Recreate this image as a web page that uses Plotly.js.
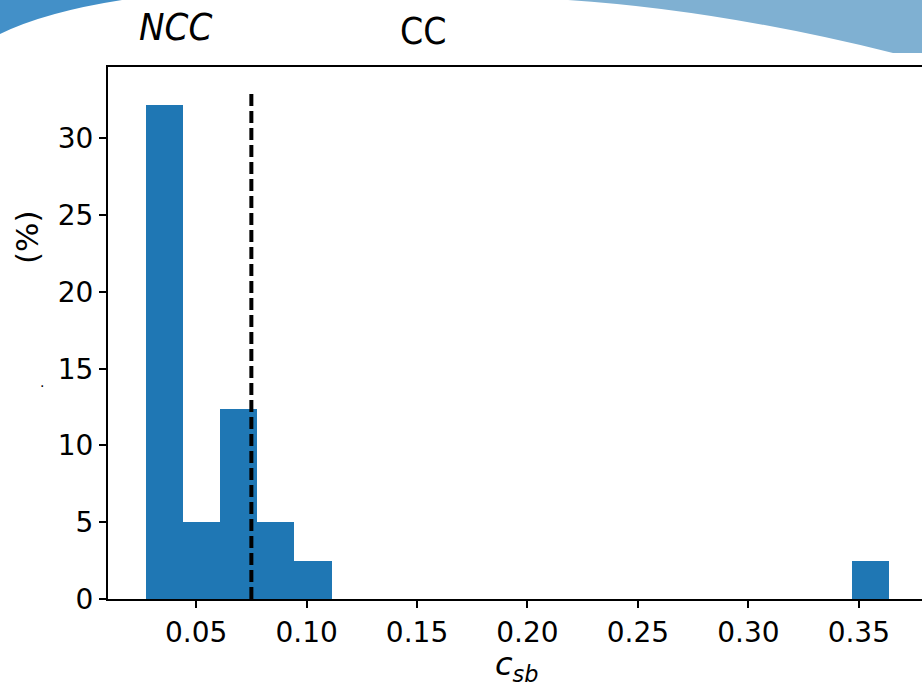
<!DOCTYPE html>
<html>
<head>
<meta charset="utf-8">
<script src="https://cdn.plot.ly/plotly-3.0.1.min.js"></script>
<style>html,body{margin:0;padding:0;background:#fff;}#chart{width:922px;height:687px;}</style>
</head>
<body>
<div id="chart"></div>
<script>
// ---- data ----
const binStart = 0.0272;
const binWidth = 0.01682;
const binPercent = [32.2, 5.0, 12.35, 5.0, 2.5, 0, 0, 0, 0, 0, 0, 0, 0, 0, 0, 0, 0, 0, 0, 2.5];
const thresholdX = 0.075;
const thresholdTop = 33;
const xTickVals = [0.05, 0.10, 0.15, 0.20, 0.25, 0.30, 0.35];
const yTickVals = [0, 5, 10, 15, 20, 25, 30];
const groupLabels = ["NCC", "CC"];

// ---- layout helpers (pixel -> paper) ----
const W = 922, H = 687, ML = 108, MR = 0, MT = 67, MB = 88;
const PW = W - ML - MR, PH = H - MT - MB;
const px = x => ((x - ML) / PW).toFixed(5);
const py = y => ((H - MB - y) / PH).toFixed(5);
const P = (x, y) => px(x) + ',' + py(y);

const centers = binPercent.map((_, i) => binStart + binWidth * (i + 0.5));

const trace = {
  type: 'bar',
  x: centers,
  y: binPercent,
  width: binWidth,
  marker: {color: '#1f77b4', line: {width: 0}},
  hoverinfo: 'x+y'
};

const FONT = 'DejaVu Sans';
const LABEL_FONT = 'DejaVu Sans Condensed, Liberation Sans';

const layout = {
  width: W, height: H,
  margin: {l: ML, r: MR, t: MT, b: MB, pad: 0},
  paper_bgcolor: '#ffffff',
  plot_bgcolor: '#ffffff',
  showlegend: false,
  bargap: 0,
  font: {family: FONT, color: '#000', size: 28},
  xaxis: {
    range: [0.0101, 0.3786],
    tickvals: xTickVals,
    ticktext: xTickVals.map(v => v.toFixed(2)),
    ticks: 'outside', ticklen: 7, tickwidth: 2, tickcolor: '#000',
    showline: true, linecolor: '#000', linewidth: 2, mirror: true,
    showgrid: false, zeroline: false,
    tickfont: {family: FONT, size: 28, color: '#000'}
  },
  yaxis: {
    range: [0, 34.65],
    tickvals: yTickVals,
    ticks: 'outside', ticklen: 7, tickwidth: 2, tickcolor: '#000',
    showline: true, linecolor: '#000', linewidth: 2,
    showgrid: false, zeroline: false,
    tickfont: {family: FONT, size: 28, color: '#000'}
  },
  shapes: [
    {type: 'path', xref: 'paper', yref: 'paper', layer: 'below',
     path: 'M' + P(0, 0) + ' L' + P(122, 0) + ' Q' + P(45, 12) + ' ' + P(0, 34) + ' Z',
     fillcolor: '#4390c8', line: {width: 0}},
    {type: 'path', xref: 'paper', yref: 'paper', layer: 'below',
     path: 'M' + P(568, 0) + ' L' + P(922, 0) + ' L' + P(922, 53) + ' L' + P(893, 53) + ' Q' + P(720, 10) + ' ' + P(568, 0) + ' Z',
     fillcolor: '#7fb0d2', line: {width: 0}},
    {type: 'line', xref: 'x', yref: 'y', x0: thresholdX, x1: thresholdX, y0: 0, y1: thresholdTop,
     line: {color: '#000', width: 4, dash: '12px,5px'}}
  ],
  annotations: [
    {xref: 'paper', yref: 'paper', x: px(175), y: py(27), text: '<i>' + groupLabels[0] + '</i>', showarrow: false,
     xanchor: 'center', yanchor: 'middle', font: {family: LABEL_FONT, size: 38, color: '#000'}},
    {xref: 'paper', yref: 'paper', x: px(423), y: py(32), text: groupLabels[1], showarrow: false,
     xanchor: 'center', yanchor: 'middle', font: {family: LABEL_FONT, size: 37, color: '#000'}},
    {xref: 'paper', yref: 'paper', x: px(516), y: py(666), text: '<i>c</i><sub><i>sb</i></sub>', showarrow: false,
     xanchor: 'center', yanchor: 'middle', font: {family: FONT, size: 32, color: '#000'}},
    {xref: 'paper', yref: 'paper', x: px(27), y: py(237), text: '(%)', showarrow: false, textangle: -90,
     xanchor: 'center', yanchor: 'middle', font: {family: FONT, size: 31, color: '#000'}},
    {xref: 'paper', yref: 'paper', x: px(42), y: py(382), text: '.', showarrow: false,
     xanchor: 'center', yanchor: 'middle', font: {family: FONT, size: 14, color: '#000'}}
  ]
};

Plotly.newPlot('chart', [trace], layout, {staticPlot: true, displayModeBar: false});
</script>
</body>
</html>
